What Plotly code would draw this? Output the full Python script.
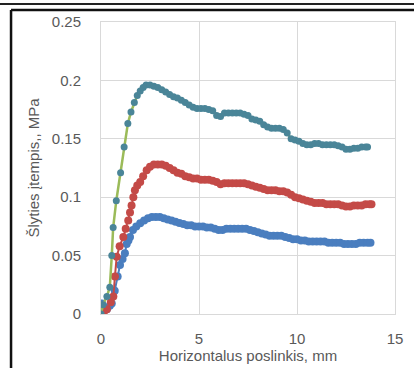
import plotly.graph_objects as go

# --- data ---
green_x = [0, 0.1, 0.3, 0.45, 0.55, 0.62, 0.78, 1.0, 1.18, 1.37, 1.53, 1.7, 1.85, 2.0, 2.15, 2.3, 2.5, 2.7, 2.9,
           3.1, 3.3, 3.5, 3.7, 3.9, 4.1, 4.3, 4.5, 4.7, 4.9, 5.1, 5.3, 5.5, 5.7, 5.9, 6.1, 6.3, 6.5, 6.7, 6.9,
           7.1, 7.3, 7.5, 7.7, 7.9, 8.1, 8.3, 8.5, 8.7, 8.9, 9.1, 9.3, 9.5, 9.7, 9.9, 10.1, 10.3, 10.5, 10.7,
           10.9, 11.1, 11.3, 11.5, 11.7, 11.9, 12.1, 12.3, 12.5, 12.7, 12.9, 13.1, 13.3, 13.5, 13.6]
green_y = [0, 0.008, 0.015, 0.023, 0.05, 0.074, 0.097, 0.121, 0.143, 0.163, 0.173, 0.181, 0.187, 0.191, 0.194,
           0.196, 0.196, 0.195, 0.194, 0.192, 0.19, 0.188, 0.186, 0.185, 0.183, 0.181, 0.179, 0.177, 0.176,
           0.176, 0.176, 0.175, 0.174, 0.170, 0.169, 0.172, 0.172, 0.172, 0.172, 0.172, 0.171, 0.170, 0.167,
           0.166, 0.165, 0.162, 0.160, 0.159, 0.159, 0.159, 0.158, 0.155, 0.150, 0.149, 0.148, 0.146, 0.145,
           0.145, 0.146, 0.146, 0.145, 0.145, 0.145, 0.145, 0.144, 0.143, 0.141, 0.141, 0.142, 0.142, 0.143,
           0.143, 0.143]

red_x = [0, 0.15, 0.3, 0.5, 0.63, 0.71, 0.8, 0.95, 1.14, 1.26, 1.39, 1.48, 1.56, 1.65, 1.73, 1.85, 2.0, 2.15,
         2.33, 2.5, 2.7, 2.9, 3.1, 3.3, 3.5, 3.7, 3.9, 4.1, 4.3, 4.5, 4.7, 4.9, 5.1, 5.3, 5.5, 5.7, 5.9, 6.1,
         6.3, 6.5, 6.7, 6.9, 7.1, 7.3, 7.5, 7.7, 7.9, 8.1, 8.3, 8.5, 8.7, 8.9, 9.1, 9.3, 9.5, 9.7, 9.9, 10.1,
         10.3, 10.5, 10.7, 10.9, 11.1, 11.3, 11.5, 11.7, 11.9, 12.1, 12.3, 12.5, 12.7, 12.9, 13.1, 13.3, 13.5,
         13.7, 13.8]
red_y = [0, 0.002, 0.004, 0.01, 0.015, 0.032, 0.049, 0.058, 0.066, 0.073, 0.080, 0.087, 0.093, 0.100, 0.106,
         0.110, 0.113, 0.118, 0.123, 0.126, 0.128, 0.128, 0.128, 0.127, 0.125, 0.123, 0.121, 0.120, 0.118,
         0.117, 0.116, 0.116, 0.115, 0.115, 0.115, 0.114, 0.113, 0.111, 0.112, 0.112, 0.112, 0.112, 0.112,
         0.112, 0.111, 0.110, 0.109, 0.108, 0.107, 0.106, 0.106, 0.106, 0.105, 0.105, 0.104, 0.102, 0.100,
         0.099, 0.098, 0.097, 0.096, 0.095, 0.095, 0.095, 0.094, 0.094, 0.094, 0.094, 0.093, 0.092, 0.092,
         0.093, 0.093, 0.093, 0.094, 0.094, 0.094]

blue_x = [0, 0.05, 0.15, 0.3, 0.45, 0.55, 0.7, 0.85, 0.97, 1.1, 1.22, 1.31, 1.4, 1.48, 1.63, 1.8, 2.0, 2.2, 2.4,
          2.6, 2.8, 3.0, 3.2, 3.4, 3.6, 3.8, 4.0, 4.2, 4.4, 4.6, 4.8, 5.0, 5.2, 5.4, 5.6, 5.8, 6.0, 6.2, 6.4,
          6.6, 6.8, 7.0, 7.2, 7.4, 7.6, 7.8, 8.0, 8.2, 8.4, 8.6, 8.8, 9.0, 9.2, 9.4, 9.6, 9.8, 10.0, 10.2,
          10.4, 10.6, 10.8, 11.0, 11.2, 11.4, 11.6, 11.8, 12.0, 12.2, 12.4, 12.6, 12.8, 13.0, 13.2, 13.4,
          13.6, 13.75]
blue_y = [0.004, 0.009, 0.006, 0.004, 0.007, 0.009, 0.02, 0.032, 0.042, 0.047, 0.052, 0.060, 0.063, 0.066,
          0.072, 0.075, 0.0776, 0.080, 0.082, 0.083, 0.083, 0.083, 0.082, 0.081, 0.080, 0.079, 0.078, 0.077,
          0.076, 0.076, 0.075, 0.075, 0.075, 0.074, 0.074, 0.073, 0.072, 0.072, 0.073, 0.073, 0.073, 0.073,
          0.073, 0.073, 0.072, 0.071, 0.070, 0.069, 0.068, 0.067, 0.067, 0.067, 0.067, 0.066, 0.065, 0.064,
          0.064, 0.063, 0.063, 0.062, 0.062, 0.062, 0.062, 0.062, 0.061, 0.061, 0.061, 0.061, 0.060, 0.060,
          0.060, 0.060, 0.061, 0.061, 0.061, 0.061]

x_ticks = [0, 5, 10, 15]
y_ticks = [0, 0.05, 0.1, 0.15, 0.2, 0.25]
y_tick_labels = ["0", "0.05", "0.1", "0.15", "0.2", "0.25"]
x_title = "Horizontalus poslinkis, mm"
y_title = "Šlyties įtempis,, MPa"

fig = go.Figure()
fig.add_trace(go.Scatter(x=blue_x, y=blue_y, mode="lines+markers",
                         line=dict(color="#4a7ebf", width=2),
                         marker=dict(color="#4a7ebf", size=8)))
fig.add_trace(go.Scatter(x=red_x, y=red_y, mode="lines+markers",
                         line=dict(color="#c44a47", width=2),
                         marker=dict(color="#c44a47", size=8)))
fig.add_trace(go.Scatter(x=green_x, y=green_y, mode="lines+markers",
                         line=dict(color="#9bbb59", width=2.5),
                         marker=dict(color="#4a8598", size=7)))

font_main = "Liberation Sans, Arial, sans-serif"
fig.update_layout(
    width=414, height=368,
    margin=dict(l=101, r=19, t=22, b=54),
    paper_bgcolor="white", plot_bgcolor="white",
    showlegend=False,
    font=dict(family=font_main, color="#595959", size=15),
    xaxis=dict(range=[0, 15], tickvals=x_ticks, showgrid=True, gridcolor="#d9d9d9",
               showline=True, linecolor="#d9d9d9", mirror=True, zeroline=False, automargin=False,
               ticks="", ticklabelstandoff=11, tickfont=dict(size=15, color="#595959"),
               title=dict(text=x_title, font=dict(size=15, color="#595959"), standoff=2)),
    yaxis=dict(range=[0, 0.25], tickvals=y_ticks, ticktext=y_tick_labels, showgrid=True,
               gridcolor="#d9d9d9", showline=True, linecolor="#d9d9d9", mirror=True,
               zeroline=False, ticks="", ticklabelstandoff=16, automargin=False,
               tickfont=dict(size=15, color="#595959"),
               title=dict(text=y_title, font=dict(size=15, color="#595959"), standoff=8)),
    shapes=[
        dict(type="line", xref="paper", yref="paper", x0=-0.35, x1=1.07, y0=1.0616, y1=1.0616,
             line=dict(color="#222222", width=2)),
        dict(type="line", xref="paper", yref="paper", x0=-0.306, x1=1.07, y0=1.041, y1=1.041,
             line=dict(color="#111111", width=2.5)),
        dict(type="line", xref="paper", yref="paper", x0=-0.306, x1=-0.306, y0=-0.2, y1=1.041,
             line=dict(color="#111111", width=2.5)),
    ],
)

fig.write_html("out.html")
